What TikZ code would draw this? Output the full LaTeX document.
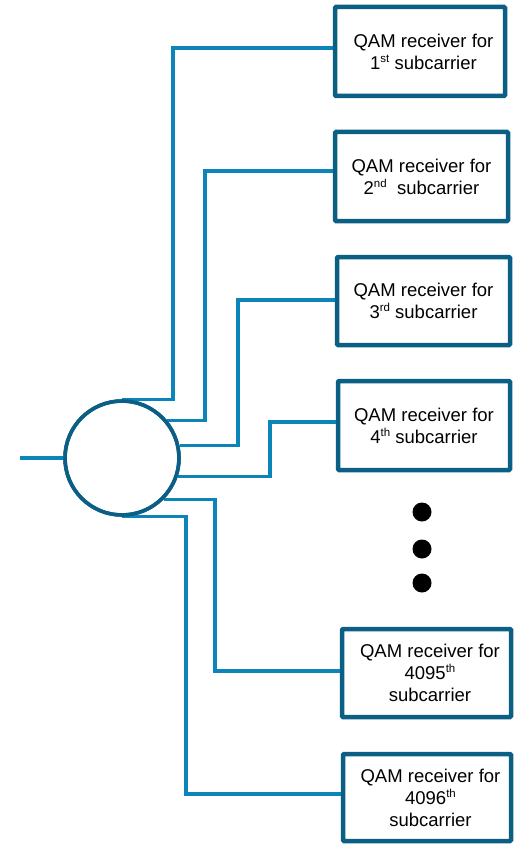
\documentclass[tikz,border=0pt]{standalone}
\usepackage{fontspec}
\setmainfont{Liberation Sans}
\definecolor{wire}{HTML}{0A84B9}
\definecolor{frame}{HTML}{0B5F85}
% small raised ordinal suffix
\newcommand{\ordsfx}[1]{\raisebox{7pt}{\fontsize{11.5}{12}\selectfont #1}}
% nudge a centred line to the right
\newcommand{\rnudge}{\hspace*{7pt}}
\tikzset{
  rxbox/.style={draw=frame, line width=4.5pt, fill=white, rounded corners=1pt,
    align=center, inner sep=0pt, font=\fontsize{18.5}{22}\selectfont},
  wireline/.style={draw=wire, line width=3.3pt},
  splitter/.style={circle, draw=frame, line width=3.6pt, fill=white, inner sep=0pt,
    minimum size=114pt},
  dotmark/.style={circle, fill=black, inner sep=0pt, minimum size=19pt}
}
\begin{document}
\begin{tikzpicture}[x=1pt,y=-1pt]
  \useasboundingbox (0,0) rectangle (514,845);

  % receiver boxes
  \node[rxbox, minimum width=170pt, minimum height=89pt] (b1) at (420,51.5)
    {\rnudge QAM receiver for\\\rnudge 1\ordsfx{st} subcarrier};
  \node[rxbox, minimum width=173pt, minimum height=89pt] (b2) at (421.5,176.5)
    {QAM receiver for\\2\ordsfx{nd}\ \ subcarrier};
  \node[rxbox, minimum width=173pt, minimum height=88pt] (b3) at (423.5,301)
    {QAM receiver for\\3\ordsfx{rd} subcarrier};
  \node[rxbox, minimum width=172pt, minimum height=89pt] (b4) at (424,425.5)
    {QAM receiver for\\4\ordsfx{th} subcarrier};
  \node[rxbox, minimum width=169pt, minimum height=88pt] (b5) at (426.5,673)
    {\rnudge QAM receiver for\\\rnudge 4095\ordsfx{th}\\\rnudge subcarrier};
  \node[rxbox, minimum width=168pt, minimum height=87pt] (b6) at (427,797.5)
    {\rnudge QAM receiver for\\\rnudge 4096\ordsfx{th}\\\rnudge subcarrier};

  % ellipsis dots
  \node[dotmark] (d1) at (422,512) {};
  \node[dotmark] (d2) at (422,549) {};
  \node[dotmark] (d3) at (422,583) {};

  % splitter
  \node[splitter] (c) at (122,458) {};
  \coordinate (in) at (20,458);

  % wire knees
  \coordinate (k1) at (173,48);
  \coordinate (k2) at (205,171);
  \coordinate (k3) at (238,300);
  \coordinate (k4) at (270,422);
  \coordinate (k5) at (215,671);
  \coordinate (k6) at (186,794);

  \draw[wireline] (in) -- (c.west);
  \draw[wireline] (c.north) -| (k1) -- (b1.west |- k1);
  \draw[wireline] (c.40) -| (k2) -- (b2.west |- k2);
  \draw[wireline] (c.12) -| (k3) -- (b3.west |- k3);
  \draw[wireline] (c.-18) -| (k4) -- (b4.west |- k4);
  \draw[wireline] (c.-45) -| (k5) -- (b5.west |- k5);
  \draw[wireline] (c.south) -| (k6) -- (b6.west |- k6);

  % splitter outline drawn over the wire ends
  \draw[frame, line width=3.6pt] (c.center) circle (57pt);
\end{tikzpicture}
\end{document}
